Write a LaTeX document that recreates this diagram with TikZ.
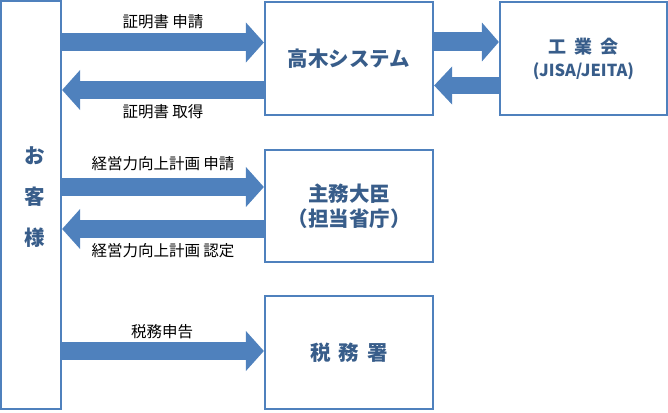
\documentclass[tikz,border=0pt]{standalone}
\usepackage{fontspec}
\setmainfont{Noto Sans CJK JP}
\usetikzlibrary{arrows.meta}
\definecolor{boxblue}{RGB}{79,129,189}
\definecolor{txtblue}{RGB}{56,93,138}
\tikzset{
  box/.style={draw=boxblue, line width=2.2pt, minimum width=168pt, minimum height=113pt,
    inner sep=0pt, text=txtblue, align=center, font=\fontsize{20.5}{25}\selectfont\bfseries},
  bigarrow/.style={draw=boxblue, line width=18pt, -{Triangle[length=18pt,width=39pt]}},
  smallarrowr/.style={draw=boxblue, line width=19pt, -{Triangle[length=17pt,width=38pt]}},
  smallarrowl/.style={draw=boxblue, line width=17pt, -{Triangle[length=18pt,width=37pt]}},
  lbl/.style={font=\fontsize{15.5}{18}\selectfont, text=black, inner sep=0pt}
}
\begin{document}
\begin{tikzpicture}[x=1pt,y=-1pt]
\useasboundingbox (0,0) rectangle (668,412);
% boxes
\node[box, minimum width=60pt, minimum height=408pt] (kyaku) at (31,205) {};
\node[box] (takagi) at (349,58.5) {高木システム};
\node[box, minimum width=167pt, font=\fontsize{18}{23}\selectfont\bfseries] (kogyo) at (583.5,58.5)
  {工\hspace{0.45em}業\hspace{0.45em}会\\{\fontsize{16.5}{18}\selectfont (JISA/JEITA)}};
\node[box, minimum height=112pt] (shumu) at (349,206) {主務大臣\\（担当省庁）};
\node[box] (zeimu) at (349,352.5) {税\hspace{0.4em}務\hspace{0.4em}署};
\node[text=txtblue, align=center, inner sep=0pt, font=\fontsize{20.5}{41}\selectfont\bfseries]
  (kyakutxt) at (35,197) {お\\客\\様};
% arrows
\draw[bigarrow] (kyaku.east |- 0,42.5) -- (takagi.west |- 0,42.5);
\draw[bigarrow] (takagi.west |- 0,90) -- (kyaku.east |- 0,90);
\draw[bigarrow] (kyaku.east |- 0,187) -- (shumu.west |- 0,187);
\draw[bigarrow] (shumu.west |- 0,229) -- (kyaku.east |- 0,229);
\draw[bigarrow] (kyaku.east |- 0,351) -- (zeimu.west |- 0,351);
\draw[smallarrowr] (takagi.east |- 0,42) -- (kogyo.west |- 0,42);
\draw[smallarrowl] (kogyo.west |- 0,85.5) -- (takagi.east |- 0,85.5);
% labels
\node[lbl] (l1) at (163,22) {証明書 申請};
\node[lbl] (l2) at (163,112) {証明書 取得};
\node[lbl] (l3) at (163,164) {経営力向上計画 申請};
\node[lbl] (l4) at (163,251) {経営力向上計画 認定};
\node[lbl] (l5) at (162,332) {税務申告};
\end{tikzpicture}
\end{document}
